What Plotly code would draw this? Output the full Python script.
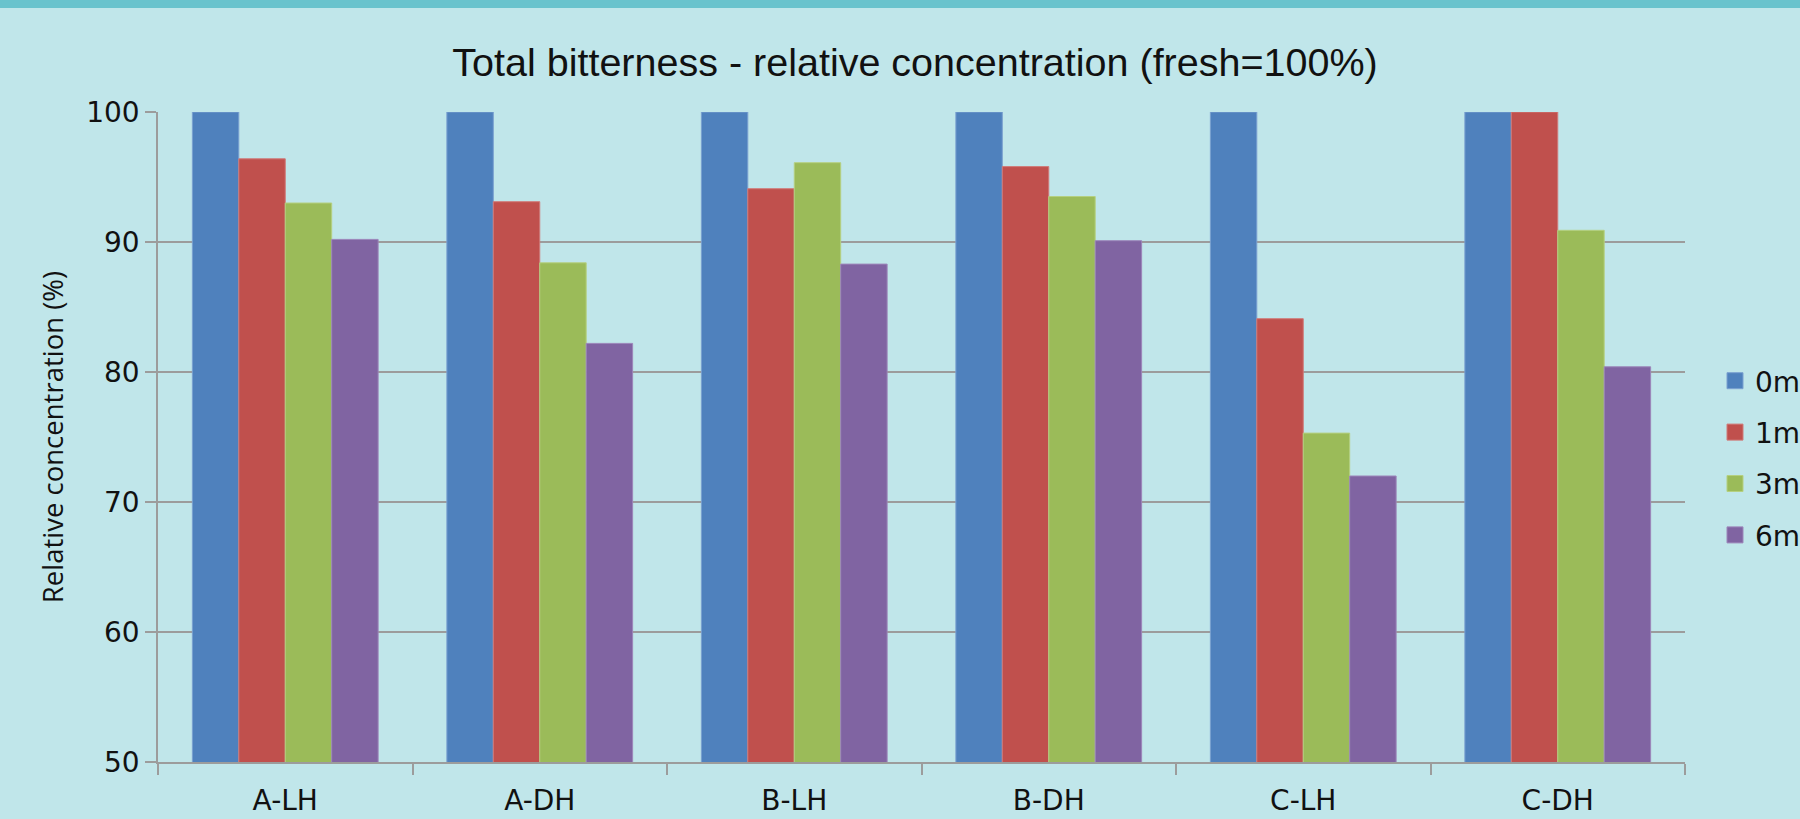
import plotly.graph_objects as go

categories = ["A-LH", "A-DH", "B-LH", "B-DH", "C-LH", "C-DH"]
series_names = ["0m", "1m", "3m", "6m"]
values_0m = [100, 100, 100, 100, 100, 100]
values_1m = [96.4, 93.1, 94.1, 95.8, 84.1, 100]
values_3m = [93.0, 88.4, 96.1, 93.5, 75.3, 90.9]
values_6m = [90.2, 82.2, 88.3, 90.1, 72.0, 80.4]
y_ticks = [50, 60, 70, 80, 90, 100]

series_values = [values_0m, values_1m, values_3m, values_6m]
colors = ["#4F81BD", "#C0504D", "#9BBB59", "#8064A2"]
edge_colors = ["#7AA0D0", "#D07A78", "#B5D081", "#9C86BA"]

BG = "#C0E6EA"
GRID = "#9C9C9C"
TICKFONT = dict(family="DejaVu Sans", size=28, color="#111111")

fig = go.Figure()
for name, vals, c, ec in zip(series_names, series_values, colors, edge_colors):
    fig.add_trace(go.Bar(
        x=categories, y=vals, name=name, legendgroup=name, showlegend=False,
        marker=dict(color=c, line=dict(color=ec, width=1)),
    ))
# legend entries with larger square swatches
for name, c, ec in zip(series_names, colors, edge_colors):
    fig.add_trace(go.Scatter(
        x=[None], y=[None], mode="markers", name=name, legendgroup=name,
        marker=dict(symbol="square", size=18, color=c, line=dict(color=ec, width=1)),
    ))

fig.update_layout(
    width=1800, height=819,
    paper_bgcolor=BG, plot_bgcolor=BG,
    margin=dict(l=158, r=115, t=112, b=57, autoexpand=False),
    barmode="group", bargap=0.27, bargroupgap=0,
    title=dict(
        text="Total bitterness - relative concentration (fresh=100%)",
        font=dict(family="Liberation Sans", size=39.5, color="#111111"),
        x=915 / 1800, xanchor="center", xref="container",
        y=1 - 62 / 819, yanchor="middle", yref="container",
    ),
    legend=dict(
        x=1715 / 1800, xref="container", xanchor="left",
        y=1 - 458 / 819, yref="container", yanchor="middle",
        font=TICKFONT, bgcolor="rgba(0,0,0,0)", borderwidth=0,
        tracegroupgap=12, itemclick=False,
    ),
    showlegend=True,
)

fig.update_xaxes(
    showgrid=False, showline=True, linecolor=GRID, linewidth=1.5,
    ticks="outside", tickson="boundaries", ticklen=11, tickcolor=GRID, tickwidth=1.5,
    tickfont=TICKFONT, automargin=False, ticklabelstandoff=13,
)
fig.update_yaxes(
    range=[50, 100], tickvals=y_ticks, showgrid=True, gridcolor=GRID, gridwidth=1.5,
    showline=True, linecolor=GRID, linewidth=1.5, zeroline=False,
    ticks="outside", ticklen=11, tickcolor=GRID, tickwidth=1.5,
    tickfont=TICKFONT, automargin=False,
    title=dict(text="Relative concentration (%)", font=dict(family="Open Sans", size=27.5, color="#111111"), standoff=15),
)

fig.add_shape(type="rect", xref="paper", yref="paper",
              x0=-0.2, x1=1.2, y0=1 + (112 - 8) / 650, y1=1.3,
              fillcolor="#69C3CD", line=dict(width=0), layer="above")

fig.write_html("out.html")
